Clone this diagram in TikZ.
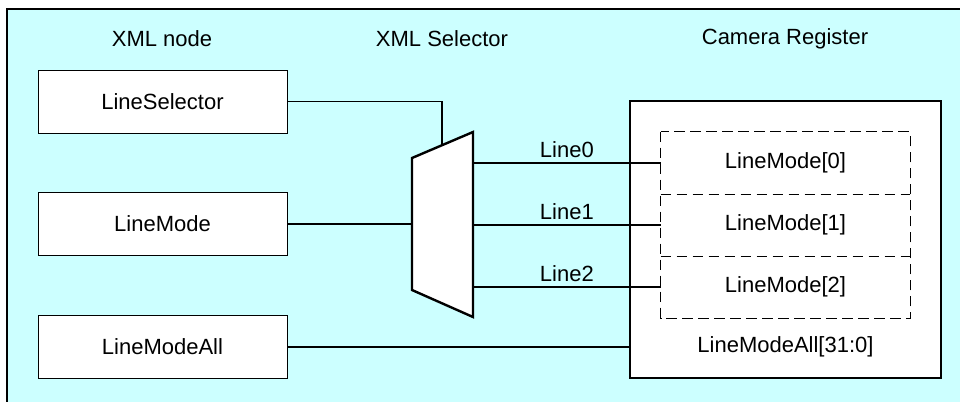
\documentclass[tikz,border=0pt]{standalone}
\usepackage{fontspec}
\setmainfont{Liberation Sans}
\usetikzlibrary{calc}

\definecolor{bgcyan}{HTML}{CCFFFF}

\tikzset{
  xmlbox/.style={draw, fill=white, minimum width=186.75pt, minimum height=47.25pt},
  cellbox/.style={minimum width=186.75pt, minimum height=46.5pt},
  celledge/.style={line width=1.1pt, dash pattern=on 8pt off 4pt},
  wire/.style={line width=0.9pt},
}

\begin{document}
\begin{tikzpicture}[x=0.75pt,y=-0.75pt,font=\fontsize{16.5}{19}\selectfont]
  \useasboundingbox (0,0) rectangle (960,401);
  % background
  \draw[fill=bgcyan, line width=0.9pt] (7,9) rectangle (970,410);

  % headings
  \node (hnode) at (162,39) {XML node};
  \node (hsel) at (442,39) {XML Selector};
  \node (hreg) at (785,39) {Camera Register};

  % XML nodes
  \node[xmlbox] (ls) at (162.5,101.5) {LineSelector};
  \node[xmlbox] (lm) at (162.5,224) {LineMode};
  \node[xmlbox] (lma) at (162.5,347) {LineModeAll};

  % camera register
  \node[draw, fill=white, line width=0.9pt, minimum width=233.25pt, minimum height=207.75pt] (reg) at (785.5,239.5) {};
  \node[cellbox] (c0) at (785.5,163) {LineMode[0]};
  \node[cellbox] (c1) at (785.5,225) {LineMode[1]};
  \node[cellbox] (c2) at (785.5,287) {LineMode[2]};
  \draw[celledge] (c0.north west) rectangle (c2.south east);
  \draw[celledge] (c0.south west) -- (c0.south east);
  \draw[celledge] (c1.south west) -- (c1.south east);
  \node (regall) at (785.5,347) {LineModeAll[31:0]};

  % selector
  \coordinate (mtl) at (412,158);
  \coordinate (mtr) at (473,132);
  \coordinate (mbr) at (473,317);
  \coordinate (mbl) at (412,290);
  \coordinate (msel) at ($(mtl)!0.492!(mtr)$);
  \draw[fill=white, line width=1.8pt, line join=miter] (mtl) -- (mtr) -- (mbr) -- (mbl) -- cycle;

  % wires
  \draw[wire] (ls.east) -| (msel);
  \draw[wire] (lm.east) -- (lm.east -| mtl);
  \draw[wire] (c0.west -| mtr) -- node[above] {Line0} (c0.west);
  \draw[wire] (c1.west -| mtr) -- node[above] {Line1} (c1.west);
  \draw[wire] (c2.west -| mtr) -- node[above] {Line2} (c2.west);
  \draw[wire] (lma.east) -- (lma.east -| reg.west);
\end{tikzpicture}
\end{document}
